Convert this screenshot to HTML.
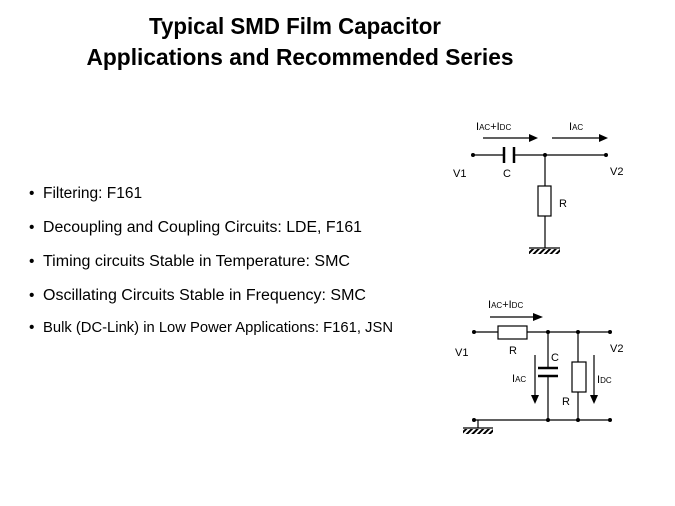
<!DOCTYPE html>
<html><head><style>body{margin:0;background:#fff}svg{display:block}</style></head><body>
<svg width="675" height="506" viewBox="0 0 675 506" xmlns="http://www.w3.org/2000/svg" font-family="Liberation Sans, Arial, sans-serif">
<defs>
<pattern id="h" width="4" height="4" patternUnits="userSpaceOnUse" patternTransform="rotate(45)"><rect width="2" height="4" fill="#000"/></pattern>
</defs>
<g font-weight="bold" font-size="23" fill="#000" text-anchor="middle">
<text x="295" y="34" textLength="292" lengthAdjust="spacingAndGlyphs">Typical SMD Film Capacitor</text>
<text x="300" y="65" textLength="427" lengthAdjust="spacingAndGlyphs">Applications and Recommended Series</text>
</g>
<g font-size="15.5" fill="#000">
<text x="29" y="198">•</text><text x="43" y="198">Filtering: F161</text>
<text x="29" y="232">•</text><text x="43" y="232" textLength="319" lengthAdjust="spacingAndGlyphs">Decoupling and Coupling Circuits: LDE, F161</text>
<text x="29" y="266">•</text><text x="43" y="266" textLength="307" lengthAdjust="spacingAndGlyphs">Timing circuits Stable in Temperature:  SMC</text>
<text x="29" y="300">•</text><text x="43" y="300" textLength="323" lengthAdjust="spacingAndGlyphs">Oscillating Circuits Stable in Frequency: SMC</text>
<text x="29" y="332">•</text><text x="43" y="332" font-size="15" textLength="350" lengthAdjust="spacingAndGlyphs">Bulk (DC-Link) in Low Power Applications: F161, JSN</text>
</g>
<g stroke="#000" stroke-width="1.2" fill="none">
<line x1="473" y1="155" x2="504" y2="155"/><line x1="514" y1="155" x2="606" y2="155"/>
<line x1="504" y1="147" x2="504" y2="163" stroke-width="2.5"/><line x1="514" y1="147" x2="514" y2="163" stroke-width="2.5"/>
<line x1="545" y1="155" x2="545" y2="186"/><rect x="538" y="186" width="13" height="30" fill="#fff"/>
<line x1="545" y1="216" x2="545" y2="248"/><line x1="529" y1="248" x2="560" y2="248"/>
<line x1="483" y1="138" x2="530" y2="138"/><line x1="552" y1="138" x2="600" y2="138"/>
<line x1="474" y1="332" x2="498" y2="332"/><rect x="498" y="326" width="29" height="13" fill="#fff"/>
<line x1="527" y1="332" x2="610" y2="332"/>
<line x1="474" y1="420" x2="610" y2="420"/>
<line x1="548" y1="332" x2="548" y2="368"/><line x1="548" y1="376" x2="548" y2="420"/>
<line x1="538" y1="368" x2="558" y2="368" stroke-width="2.5"/><line x1="538" y1="376" x2="558" y2="376" stroke-width="2.5"/>
<line x1="578" y1="332" x2="578" y2="362"/><rect x="572" y="362" width="14" height="30" fill="#fff"/><line x1="578" y1="392" x2="578" y2="420"/>
<line x1="478" y1="420" x2="478" y2="428"/><line x1="463" y1="428" x2="493" y2="428"/>
<line x1="490" y1="317" x2="534" y2="317"/>
<line x1="535" y1="355" x2="535" y2="396"/><line x1="594" y1="355" x2="594" y2="396"/>
</g>
<rect x="529" y="249" width="31" height="5" fill="url(#h)"/>
<rect x="463" y="429" width="30" height="5" fill="url(#h)"/>
<g fill="#000">
<polygon points="529,134 538,138 529,142"/><polygon points="599,134 608,138 599,142"/>
<polygon points="533,313 543,317 533,321"/>
<polygon points="531,395 539,395 535,404"/><polygon points="590,395 598,395 594,404"/>
<circle cx="473" cy="155" r="2"/><circle cx="545" cy="155" r="2"/><circle cx="606" cy="155" r="2"/>
<circle cx="474" cy="332" r="2"/><circle cx="548" cy="332" r="2"/><circle cx="578" cy="332" r="2"/><circle cx="610" cy="332" r="2"/>
<circle cx="474" cy="420" r="2"/><circle cx="548" cy="420" r="2"/><circle cx="578" cy="420" r="2"/><circle cx="610" cy="420" r="2"/>
</g>
<g font-size="11" fill="#000">
<text x="476" y="130">I<tspan font-size="8">AC</tspan>+I<tspan font-size="8">DC</tspan></text>
<text x="569" y="130">I<tspan font-size="8">AC</tspan></text>
<text x="453" y="177">V1</text><text x="503" y="177">C</text><text x="610" y="175">V2</text>
<text x="559" y="207">R</text>
<text x="488" y="308">I<tspan font-size="8">AC</tspan>+I<tspan font-size="8">DC</tspan></text>
<text x="455" y="356">V1</text><text x="509" y="354">R</text><text x="551" y="361">C</text><text x="610" y="352">V2</text>
<text x="512" y="382">I<tspan font-size="8">AC</tspan></text>
<text x="597" y="383">I<tspan font-size="8">DC</tspan></text>
<text x="562" y="405">R</text>
</g>
</svg>
</body></html>
